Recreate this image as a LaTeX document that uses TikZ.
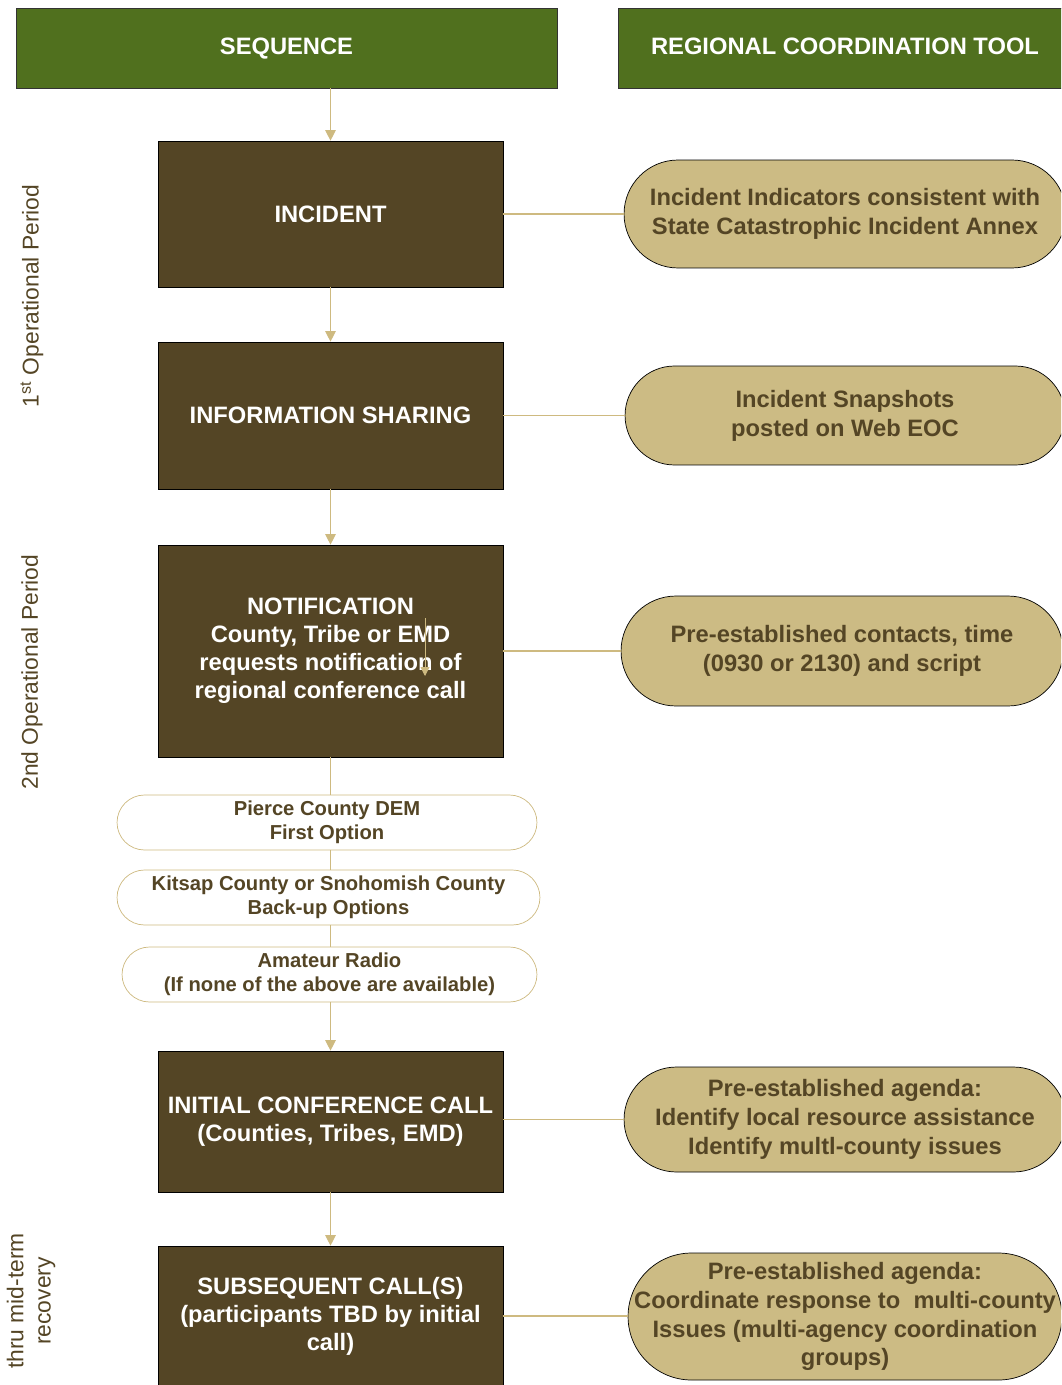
\documentclass[tikz,border=0pt]{standalone}
\usepackage{fontspec}
\setmainfont{Liberation Sans}
\usetikzlibrary{arrows.meta}

\definecolor{hdrgreen}{RGB}{80,112,30}
\definecolor{boxbrown}{RGB}{84,69,37}
\definecolor{tanfill}{RGB}{204,187,132}
\definecolor{tanline}{RGB}{206,186,128}

\tikzset{
  header/.style={draw=black!80,fill=hdrgreen,text=white,font=\fontsize{13.5}{16}\selectfont\bfseries,minimum height=1.6cm,text height=1.6ex,text depth=.3ex},
  stepbox/.style={draw=black,fill=boxbrown,text=white,align=center,font=\fontsize{13.5}{16}\selectfont\bfseries,minimum width=6.9cm},
  toolbox/.style={draw=black,fill=tanfill,text=boxbrown,align=center,font=\fontsize{13.5}{16.4}\selectfont\bfseries,inner xsep=0pt,rounded corners=#1},
  optbox/.style={draw=tanline,fill=white,text=boxbrown,align=center,font=\fontsize{11.5}{13.6}\selectfont\bfseries,minimum height=1.1cm,inner sep=1pt,rounded corners=0.55cm},
  period/.style={rotate=90,text=boxbrown,align=center,font=\fontsize{13}{15.5}\selectfont},
  flow/.style={draw=tanline,line width=0.7pt,-{Triangle[width=6pt,length=6pt]}},
  link/.style={draw=tanline,line width=0.7pt}
}

\begin{document}
\begin{tikzpicture}[x=0.02cm,y=-0.02cm]
    \clip (0,0) rectangle (1061,1385);
    % column headers
    \node[header,minimum width=10.82cm] (seq) at (286.5,48) {SEQUENCE};
    \node[header,minimum width=9.08cm] (rct) at (845,48) {REGIONAL COORDINATION TOOL};

    % sequence column
    \node[stepbox,minimum height=2.92cm] (inc) at (330.5,214) {INCIDENT};
    \node[stepbox,minimum height=2.94cm] (info) at (330.5,415.5) {INFORMATION SHARING};
    \node[stepbox,minimum height=4.24cm] (notif) at (330.5,651) {NOTIFICATION\\County, Tribe or EMD\\requests notification of\\regional conference call};
    \node[optbox,minimum width=8.4cm] (pierce) at (327,822.5) {Pierce County DEM\\First Option};
    \node[optbox,minimum width=8.46cm] (kitsap) at (328.5,897.5) {Kitsap County or Snohomish County\\Back-up Options};
    \node[optbox,minimum width=8.3cm] (radio) at (329.5,974.5) {Amateur Radio\\(If none of the above are available)};
    \node[stepbox,minimum height=2.82cm] (icc) at (330.5,1121.5) {INITIAL CONFERENCE CALL\\(Counties, Tribes, EMD)};
    \node[stepbox,minimum height=2.8cm] (subs) at (330.5,1316) {SUBSEQUENT CALL(S)\\(participants TBD by initial\\call)};

    % tool column
    \node[toolbox=1.08cm,minimum width=8.84cm,minimum height=2.16cm] (indic) at (845,214) {Incident Indicators consistent with\\State Catastrophic Incident Annex};
    \node[toolbox=0.99cm,minimum width=8.8cm,minimum height=1.98cm] (snap) at (845,415.5) {Incident Snapshots\\posted on Web EOC};
    \node[toolbox=1.1cm,minimum width=8.84cm,minimum height=2.2cm] (contacts) at (842,651) {Pre-established contacts, time\\(0930 or 2130) and script};
    \node[toolbox=1.05cm,minimum width=8.84cm,minimum height=2.1cm] (agenda1) at (845,1119.5) {Pre-established agenda:\\Identify local resource assistance\\Identify multl-county issues};
    \node[toolbox=1.27cm,minimum width=8.68cm,minimum height=2.54cm] (agenda2) at (845,1316.5) {Pre-established agenda:\\Coordinate response to\ \ multi-county\\Issues (multi-agency coordination\\groups)};

    % periods
    \node[period] (per1) at (32,296) {1\textsuperscript{st} Operational Period};
    \node[period] (per2) at (32,672) {2nd Operational Period};
    \node[period] (per3) at (31,1301) {thru mid-term\\recovery};

    % flow down the sequence
    \draw[flow] (seq.south -| inc) -- (inc.north);
    \draw[flow] (inc.south) -- (info.north);
    \draw[flow] (info.south) -- (notif.north);
    \draw[link] (notif.south) -- (pierce.north -| notif);
    \draw[link] (pierce.south -| notif) -- (kitsap.north -| notif);
    \draw[link] (kitsap.south -| notif) -- (radio.north -| notif);
    \draw[flow] (radio.south -| notif) -- (icc.north);
    \draw[flow] (icc.south) -- (subs.north);
    % stray arrow inside notification box
    \coordinate (strayA) at (425,618);
    \coordinate (strayB) at (425,676);
    \draw[flow,line width=0.5pt,-{Triangle[width=5pt,length=5pt]}] (strayA) -- (strayB);

    % links to the tools
    \draw[link] (inc.east) -- (indic.west);
    \draw[link] (info.east) -- (snap.west);
    \draw[link] (notif.east) -- (contacts.west);
    \draw[link] (icc.east |- agenda1) -- (agenda1.west);
    \draw[link] (subs.east) -- (subs.east -| agenda2.west);
\end{tikzpicture}
\end{document}
